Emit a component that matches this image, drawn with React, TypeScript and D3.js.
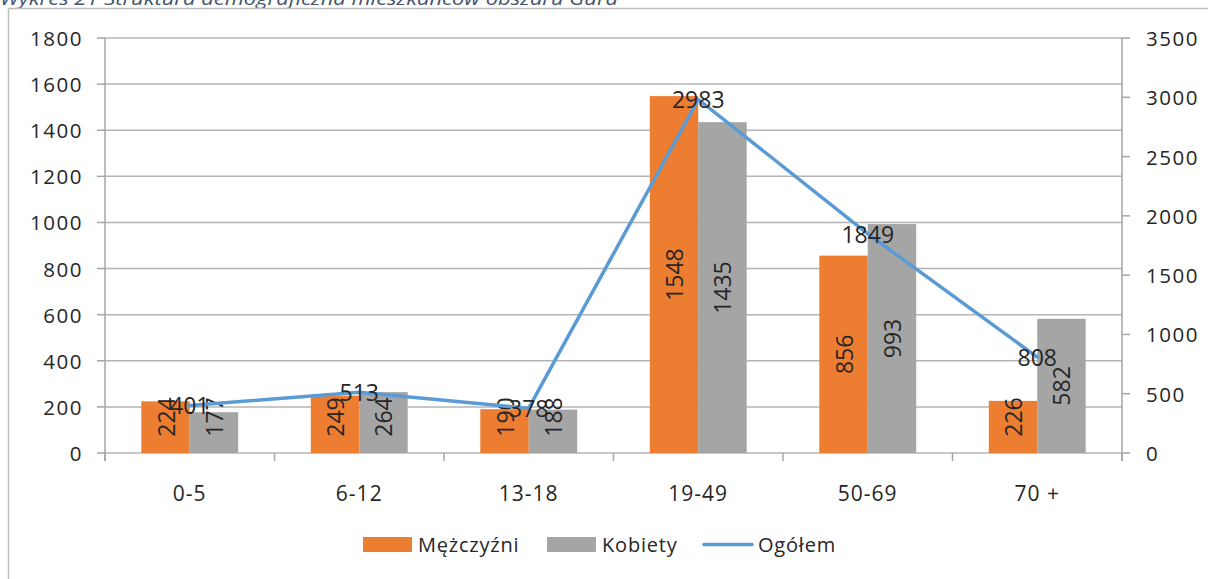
import React from "react";
import * as d3 from "d3";

const categories = ["0-5", "6-12", "13-18", "19-49", "50-69", "70 +"];
const menValues = [224, 249, 190, 1548, 856, 226];
const womenValues = [177, 264, 188, 1435, 993, 582];
const totalValues = [401, 513, 378, 2983, 1849, 808];
const leftTicks = [0, 200, 400, 600, 800, 1000, 1200, 1400, 1600, 1800];
const rightTicks = [0, 500, 1000, 1500, 2000, 2500, 3000, 3500];
const seriesNames = ["Mężczyźni", "Kobiety", "Ogółem"];
const title = "Wykres 21 Struktura demograficzna mieszkańców obszaru Gura";

const W = 1208;
const H = 579;
const M = { left: 105, right: 1122, top: 38, bottom: 453 };
const ORANGE = "#ED7D31";
const GREY = "#A5A5A5";
const BLUE = "#5B9BD5";
const FONT = "'Open Sans', sans-serif";
const TXT = "#262626";
const AX = "#A6A6A6";

export default function App() {
  const x0 = d3.scaleBand<string>().domain(categories).range([M.left, M.right]).paddingInner(0).paddingOuter(0);
  const x1 = d3
    .scaleBand<string>()
    .domain(["m", "k"])
    .range([0, x0.bandwidth()])
    .paddingInner(0)
    .paddingOuter(0.75);
  const yL = d3.scaleLinear().domain([0, 1800]).range([M.bottom, M.top]);
  const yR = d3.scaleLinear().domain([0, 3500]).range([M.bottom, M.top]);
  const cx = (c: string) => (x0(c) as number) + x0.bandwidth() / 2;

  const line = d3
    .line<number>()
    .x((_, i) => cx(categories[i]))
    .y((d) => yR(d));

  const barLabelY = (v: number) => Math.min((yL(v) + M.bottom) / 2, M.bottom - 36);

  const bars = (vals: number[], key: string, color: string) =>
    vals.map((v, i) => {
      const bx = (x0(categories[i]) as number) + (x1(key) as number);
      return (
        <rect key={key + i} x={bx} y={yL(v)} width={x1.bandwidth()} height={M.bottom - yL(v)} fill={color} />
      );
    });

  const barLabels = (vals: number[], key: string) =>
    vals.map((v, i) => {
      const bx = (x0(categories[i]) as number) + (x1(key) as number) + x1.bandwidth() / 2;
      const by = barLabelY(v);
      return (
        <text
          key={"l" + key + i}
          transform={`translate(${bx},${by}) rotate(-90)`}
          textAnchor="middle"
          dominantBaseline="central"
          fontFamily={FONT}
          fontSize={23}
          fill={TXT}
        >
          {v}
        </text>
      );
    });

  const boundaries = d3.range(categories.length + 1).map((i) => M.left + i * x0.bandwidth());

  return (
    <svg width={W} height={H} style={{ position: "absolute", left: 0, top: 0, background: "#fff" }}>
      <rect x={0} y={0} width={W} height={H} fill="#fff" />
      <text
        x={0}
        y={5}
        fontFamily={FONT}
        fontStyle="italic"
        fontSize={18}
        fill="#44546A"
        textLength={618}
        lengthAdjust="spacingAndGlyphs"
      >
        {title}
      </text>
      {/* frame */}
      <line x1={8.5} y1={8.5} x2={W} y2={8.5} stroke="#BFBFBF" strokeWidth={1.5} />
      <line x1={8.5} y1={8.5} x2={8.5} y2={H} stroke="#BFBFBF" strokeWidth={1.5} />

      {/* gridlines */}
      {leftTicks.map((t) => (
        <line key={"g" + t} x1={M.left} x2={M.right} y1={yL(t)} y2={yL(t)} stroke="#B4B4B4" strokeWidth={1.5} />
      ))}

      {/* axes */}
      <line x1={M.left} x2={M.left} y1={M.top} y2={M.bottom + 8} stroke={AX} strokeWidth={1.5} />
      <line x1={M.right} x2={M.right} y1={M.top} y2={M.bottom + 8} stroke={AX} strokeWidth={1.5} />
      {leftTicks.map((t) => (
        <line key={"lt" + t} x1={M.left - 8} x2={M.left} y1={yL(t)} y2={yL(t)} stroke={AX} strokeWidth={1.5} />
      ))}
      {rightTicks.map((t) => (
        <line key={"rt" + t} x1={M.right} x2={M.right + 8} y1={yR(t)} y2={yR(t)} stroke={AX} strokeWidth={1.5} />
      ))}
      {boundaries.map((b, i) => (
        <line key={"bt" + i} x1={b} x2={b} y1={M.bottom} y2={M.bottom + 8} stroke={AX} strokeWidth={1.5} />
      ))}

      {/* tick labels */}
      {leftTicks.map((t) => (
        <text
          key={"ll" + t}
          x={M.left - 22}
          y={yL(t)}
          textAnchor="end"
          dominantBaseline="central"
          fontFamily={FONT}
          fontSize={20.5}
          letterSpacing={1.5}
          fill={TXT}
        >
          {t}
        </text>
      ))}
      {rightTicks.map((t) => (
        <text
          key={"rl" + t}
          x={M.right + 24}
          y={yR(t)}
          textAnchor="start"
          dominantBaseline="central"
          fontFamily={FONT}
          fontSize={20.5}
          letterSpacing={1.5}
          fill={TXT}
        >
          {t}
        </text>
      ))}
      {categories.map((c) => (
        <text
          key={"c" + c}
          x={cx(c)}
          y={493}
          textAnchor="middle"
          dominantBaseline="central"
          fontFamily={FONT}
          fontSize={21}
          letterSpacing={1}
          fill={TXT}
        >
          {c}
        </text>
      ))}

      {/* bars */}
      {bars(menValues, "m", ORANGE)}
      {bars(womenValues, "k", GREY)}
      {barLabels(menValues, "m")}
      {barLabels(womenValues, "k")}

      {/* line */}
      <path d={line(totalValues) || ""} fill="none" stroke={BLUE} strokeWidth={3.5} strokeLinejoin="round" strokeLinecap="round" />
      {totalValues.map((v, i) => (
        <text
          key={"tl" + i}
          x={cx(categories[i])}
          y={yR(v)}
          textAnchor="middle"
          dominantBaseline="central"
          fontFamily={FONT}
          fontSize={23}
          fill={TXT}
        >
          {v}
        </text>
      ))}

      {/* legend */}
      <rect x={363} y={537} width={49} height={15} fill={ORANGE} />
      <text x={418} y={544.5} dominantBaseline="central" fontFamily={FONT} fontSize={20} letterSpacing={0.8} fill={TXT}>
        {seriesNames[0]}
      </text>
      <rect x={547} y={537} width={49} height={15} fill={GREY} />
      <text x={602} y={544.5} dominantBaseline="central" fontFamily={FONT} fontSize={20} letterSpacing={0.8} fill={TXT}>
        {seriesNames[1]}
      </text>
      <line x1={704} x2={752} y1={544.5} y2={544.5} stroke={BLUE} strokeWidth={3.5} strokeLinecap="round" />
      <text x={758} y={544.5} dominantBaseline="central" fontFamily={FONT} fontSize={20} letterSpacing={0.8} fill={TXT}>
        {seriesNames[2]}
      </text>
    </svg>
  );
}
